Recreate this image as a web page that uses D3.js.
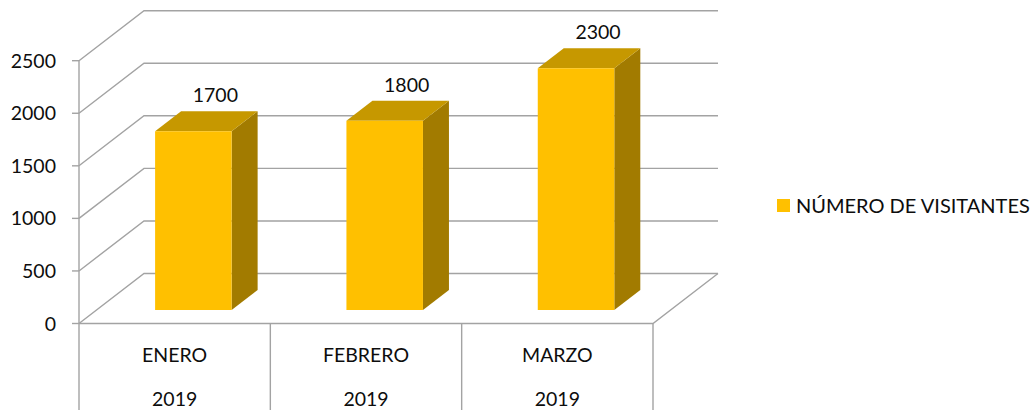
<html>
<head>
    <script src="https://d3js.org/d3.v7.min.js"></script>
    <style>
        body { margin: 0; background: #fff; }
        text { font-family: Lato, "Open Sans", sans-serif; fill: #0d0d0d; }
    </style>
</head>
<body>
<svg id="chart" width="1031" height="410"></svg>
<script>
    const months = ["ENERO", "FEBRERO", "MARZO"];
    const years = ["2019", "2019", "2019"];
    const visitors = [1700, 1800, 2300];
    const yTicks = [0, 500, 1000, 1500, 2000, 2500];
    const seriesName = "NÚMERO DE VISITANTES";

    const svg = d3.select("#chart");
    const gridColor = "#a3a3a3";
    const fs = 19.5;

    // depth of the 3d box (offset of the back wall)
    const DX = 65, DY = -50;
    const proj = (px, py, d) => [px + DX * d, py + DY * d];

    const x = d3.scaleBand().domain(months).range([79, 653]);
    const y = d3.scaleLinear().domain([0, 2500]).range([323.5, 60.7]);
    const bw = x.bandwidth();

    const frontD = 0.27, backD = 0.67;

    // side wall + back wall gridlines
    const grid = svg.append("g").attr("fill", "none").attr("stroke", gridColor).attr("stroke-width", 1.4);
    yTicks.forEach(t => {
        const a = proj(79, y(t), 0), b = proj(79, y(t), 1), c = proj(653, y(t), 1);
        grid.append("polyline").attr("points", [a, b, c].map(p => p.join(",")).join(" "));
    });
    // floor front edge + right edge
    const f0 = proj(79, y(0), 0), f1 = proj(653, y(0), 0), f2 = proj(653, y(0), 1);
    grid.append("polyline").attr("points", [f0, f1, f2].map(p => p.join(",")).join(" "));

    // left axis line running down through the category table
    grid.append("line").attr("x1", 79).attr("x2", 79).attr("y1", y(2500)).attr("y2", 410);
    // category separators
    months.forEach(m => {
        const xe = x(m) + bw;
        grid.append("line").attr("x1", xe).attr("x2", xe).attr("y1", y(0)).attr("y2", 410);
    });
    // ticks
    yTicks.forEach(t => {
        grid.append("line").attr("x1", 72).attr("x2", 79).attr("y1", y(t)).attr("y2", y(t));
    });

    // tick labels
    svg.append("g").selectAll("text").data(yTicks).join("text")
        .attr("x", 56).attr("y", d => y(d)).attr("dy", "0.36em")
        .attr("text-anchor", "end").attr("font-size", fs)
        .text(d => d);

    // bars
    const bars = svg.append("g");
    months.forEach((m, i) => {
        const v = visitors[i];
        const x0 = x(m) + bw * 0.306, x1 = x0 + bw * 0.4;
        const pts = (arr) => arr.map(p => p.join(",")).join(" ");
        const fbl = proj(x0, y(0), frontD), fbr = proj(x1, y(0), frontD);
        const ftl = proj(x0, y(v), frontD), ftr = proj(x1, y(v), frontD);
        const bbr = proj(x1, y(0), backD);
        const btl = proj(x0, y(v), backD), btr = proj(x1, y(v), backD);
        bars.append("polygon").attr("points", pts([fbr, ftr, btr, bbr])).attr("fill", "#a27b00");
        bars.append("polygon").attr("points", pts([ftl, ftr, btr, btl])).attr("fill", "#c69800");
        bars.append("polygon").attr("points", pts([fbl, fbr, ftr, ftl])).attr("fill", "#ffc000");
        bars.append("text")
            .attr("x", (x0 + x1) / 2 + 22 + DX * frontD)
            .attr("y", btl[1] - 16).attr("dy", "0.36em")
            .attr("text-anchor", "middle").attr("font-size", fs)
            .text(v);
    });

    // category labels
    const cat = svg.append("g").attr("text-anchor", "middle").attr("font-size", fs);
    months.forEach((m, i) => {
        const cx = x(m) + bw / 2;
        cat.append("text").attr("x", cx).attr("y", 355).attr("dy", "0.36em").text(m);
        cat.append("text").attr("x", cx).attr("y", 399).attr("dy", "0.36em").text(years[i]);
    });

    // legend
    const lg = svg.append("g").attr("transform", "translate(777,199)");
    lg.append("rect").attr("width", 13).attr("height", 13).attr("fill", "#ffc000");
    lg.append("text").attr("x", 19).attr("y", 6.5).attr("dy", "0.36em").attr("font-size", 20).text(seriesName);
</script>
</body>
</html>
